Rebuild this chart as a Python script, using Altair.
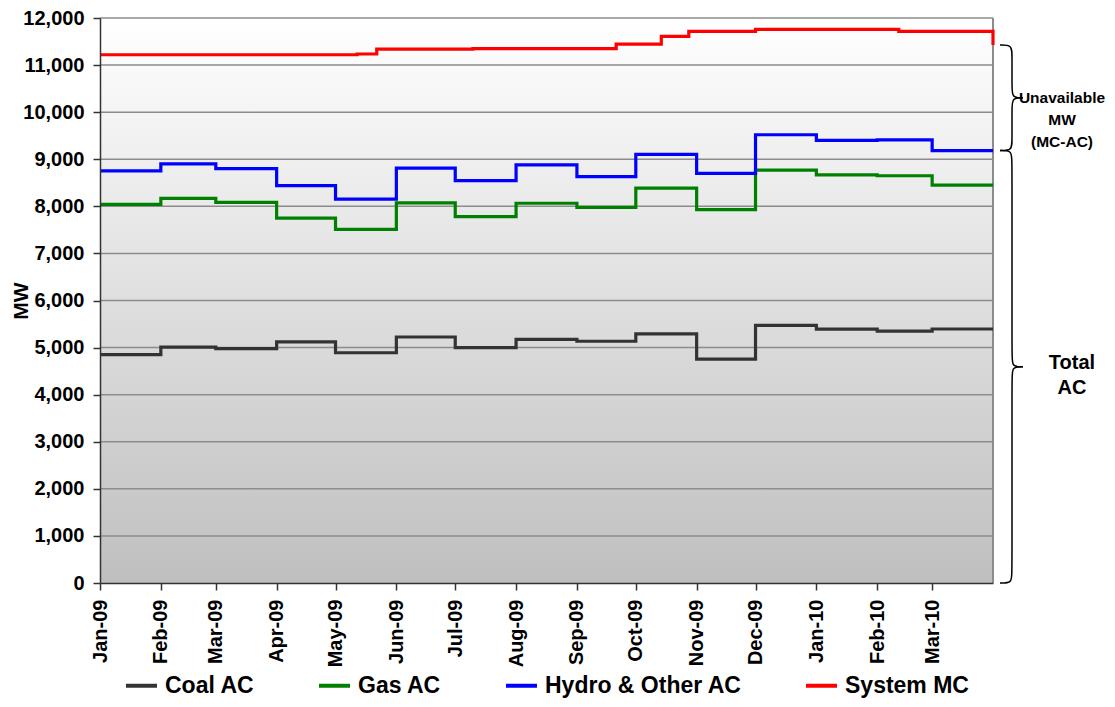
import altair as alt
import pandas as pd

W, H = 893, 565
FONT = "Liberation Sans"

# month starts, last entry closes the final step
months = ["2009-01-01", "2009-02-01", "2009-03-01", "2009-04-01", "2009-05-01",
          "2009-06-01", "2009-07-01", "2009-08-01", "2009-09-01", "2009-10-01",
          "2009-11-01", "2009-12-01", "2010-01-01", "2010-02-01", "2010-03-01",
          "2010-04-01"]
coal_ac = [4850, 5010, 4980, 5120, 4890, 5225, 5000, 5175, 5135, 5290,
           4755, 5470, 5390, 5350, 5395, 5395]
gas_ac = [8040, 8170, 8085, 7750, 7510, 8075, 7780, 8065, 7980, 8385,
          7930, 8770, 8670, 8650, 8450, 8450]
hydro_ac = [8755, 8900, 8800, 8440, 8155, 8810, 8545, 8880, 8630, 9105,
            8700, 9520, 9400, 9410, 9185, 9185]

mc_dates = ["2009-01-01", "2009-05-12", "2009-05-22", "2009-07-10", "2009-09-21",
            "2009-10-14", "2009-10-28", "2009-12-01", "2010-02-12", "2010-04-01"]
system_mc = [11220, 11235, 11340, 11350, 11445, 11610, 11715, 11760, 11715, 11425]

SERIES = ["Coal AC", "Gas AC", "Hydro & Other AC", "System MC"]
COLORS = ["#333333", "#008000", "#0000FF", "#FF0000"]
Y_TICKS = list(range(0, 12001, 1000))

frames = []
for name, vals in zip(SERIES[:3], [coal_ac, gas_ac, hydro_ac]):
    frames.append(pd.DataFrame({"date": pd.to_datetime(months), "MW": vals, "series": name}))
frames.append(pd.DataFrame({"date": pd.to_datetime(mc_dates), "MW": system_mc, "series": "System MC"}))
df = pd.concat(frames, ignore_index=True)


def dt(s):
    t = pd.Timestamp(s)
    return alt.DateTime(year=t.year, month=t.month, date=t.day)


def y_enc():
    return alt.Y("MW:Q", title="MW",
                 scale=alt.Scale(domain=[0, 12000], nice=False, zero=True),
                 axis=alt.Axis(values=Y_TICKS, format=",d", grid=False, zindex=1,
                               titleX=-79, titleY=H / 2, titleAngle=270,
                               titleAlign="center", titleBaseline="middle",
                               titleFontSize=21, titleFont=FONT,
                               titleFontWeight="bold", titleColor="black",
                               labelPadding=9))


one = pd.DataFrame({"k": [0]})

bg = alt.Chart(one).mark_rect(
    color=alt.Gradient(gradient="linear",
                       stops=[alt.GradientStop(color="#ffffff", offset=0),
                              alt.GradientStop(color="#bfbfbf", offset=1)],
                       x1=0, x2=0, y1=0, y2=1)
).encode(x=alt.value(0), x2=alt.value(W), y=alt.value(0), y2=alt.value(H))

grid = alt.Chart(pd.DataFrame({"MW": Y_TICKS[1:]})).mark_rule(
    color="#8c8c8c", strokeWidth=1.5).encode(y=y_enc())

border = alt.Chart(one).mark_rule(color="#8c8c8c", strokeWidth=2).encode(
    x=alt.value(W), y=alt.value(0), y2=alt.value(H))

lines = alt.Chart(df).mark_line(interpolate="step-after", strokeWidth=3.2).encode(
    x=alt.X("date:T", title=None,
            scale=alt.Scale(domain=[dt(months[0]), dt(months[-1])], nice=False),
            axis=alt.Axis(values=[dt(m) for m in months[:-1]], format="%b-%y",
                          labelAngle=270, grid=False, zindex=1, labelPadding=9)),
    y=y_enc(),
    color=alt.Color("series:N", scale=alt.Scale(domain=SERIES, range=COLORS),
                    legend=alt.Legend(orient="none", legendX=24, legendY=650,
                                      direction="horizontal", title=None,
                                      symbolType="stroke", symbolSize=961,
                                      symbolStrokeWidth=4, labelOffset=6,
                                      columnPadding=56, labelLimit=400)),
)

# curly braces to the right of the plot (x in pixels past the plot edge)
X0, XV, XT = W + 7, W + 19, W + 30


def brace(key, top, bot, r_px=10):
    r = r_px * 12000 / H
    mid = (top + bot) / 2
    pts_a = [(X0, top), (XV, top), (XV, top - r), (XV, mid + r), (XV, mid), (XT, mid)]
    pts_b = [(XT, mid), (XV, mid), (XV, mid - r), (XV, bot + r), (XV, bot), (X0, bot)]
    rows = []
    for part, pts in (("a", pts_a), ("b", pts_b)):
        for i, (bx, v) in enumerate(pts):
            rows.append({"bx": bx, "MW": v, "part": key + part, "i": i})
    return rows


brace_df = pd.DataFrame(brace("up", system_mc[-1], hydro_ac[-1]) + brace("lo", hydro_ac[-1], 0))
bx_enc = alt.X("bx:Q", scale=alt.Scale(domain=[0, W], nice=False, zero=False), axis=None)

braces = alt.Chart(brace_df).mark_line(
    interpolate="basis", color="black", strokeWidth=1.5, clip=False
).encode(x=bx_enc, y=y_enc(), detail="part:N", order="i:Q")

txt_up = alt.Chart(pd.DataFrame({
    "bx": [W + 69], "MW": [(system_mc[-1] + hydro_ac[-1]) / 2],
    "label": ["Unavailable\nMW\n(MC-AC)"]})).mark_text(
    font=FONT, fontWeight="bold", fontSize=15.5, lineBreak="\n", lineHeight=22,
    align="center", baseline="middle", color="black", clip=False
).encode(x=bx_enc, y=y_enc(), text="label:N")

txt_lo = alt.Chart(pd.DataFrame({
    "bx": [W + 79], "MW": [hydro_ac[-1] / 2], "label": ["Total\nAC"]})).mark_text(
    font=FONT, fontWeight="bold", fontSize=20, lineBreak="\n", lineHeight=25,
    align="center", baseline="middle", color="black", dy=-4, clip=False
).encode(x=bx_enc, y=y_enc(), text="label:N")

main = alt.layer(bg, grid, border, lines)
notes = alt.layer(braces, txt_up, txt_lo)

chart = (
    alt.layer(main, notes)
    .resolve_scale(x="independent")
    .properties(width=W, height=H, background="white",
                autosize=alt.AutoSizeParams(type="none"),
                padding={"left": 92, "top": 10, "right": 114, "bottom": 116})
    .configure_view(strokeWidth=0)
    .configure_axis(labelFont=FONT, labelFontSize=20, labelFontWeight="bold",
                    labelColor="black", domainColor="#333333", domainWidth=1.5,
                    tickColor="#333333", tickWidth=1.5, tickSize=7)
    .configure_legend(labelFont=FONT, labelFontSize=23, labelFontWeight="bold",
                      labelColor="black")
)

chart.save("out.html", embed_options={"renderer": "svg", "actions": False})
